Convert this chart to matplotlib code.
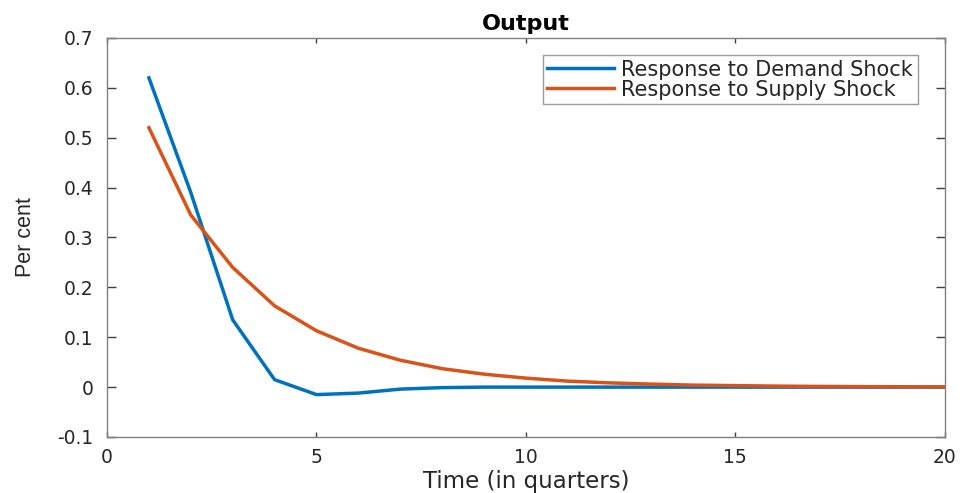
import matplotlib
matplotlib.use("Agg")
import matplotlib.pyplot as plt

plt.rcParams['font.family'] = ['DejaVu Sans']

t = list(range(1, 21))
demand = [0.62, 0.39, 0.135, 0.015, -0.015, -0.012, -0.004, -0.001, 0.0, 0.0,
          0.0, 0.0, 0.0, 0.0, 0.0, 0.0, 0.0, 0.0, 0.0, 0.0]
supply = [0.52, 0.345, 0.24, 0.163, 0.113, 0.078, 0.054, 0.037, 0.026, 0.018,
          0.012, 0.0085, 0.006, 0.004, 0.003, 0.002, 0.0014, 0.001, 0.0007, 0.0005]
labels = ["Response to Demand Shock", "Response to Supply Shock"]
xticks = [0, 5, 10, 15, 20]
yticks = [-0.1, 0, 0.1, 0.2, 0.3, 0.4, 0.5, 0.6, 0.7]
yticklabels = ['-0.1', '0', '0.1', '0.2', '0.3', '0.4', '0.5', '0.6', '0.7']

fig = plt.figure(figsize=(9.6, 4.93), dpi=100)
ax = fig.add_axes([0.1115, 0.1136, 0.8725, 0.8094])
ax.plot(t, demand, color='#0072BD', lw=2.5, label=labels[0])
ax.plot(t, supply, color='#D95319', lw=2.5, label=labels[1])
ax.set_xlim(0, 20)
ax.set_ylim(-0.1, 0.7)
ax.set_xticks(xticks)
ax.set_xticklabels([str(v) for v in xticks])
ax.set_yticks(yticks)
ax.set_yticklabels(yticklabels)
ax.tick_params(direction='in', top=True, right=True, width=1,
               color='#404040', labelcolor='#262626', labelsize=13.5)
ax.tick_params(axis='x', length=3.8, pad=8)
ax.tick_params(axis='y', length=6.5, pad=10)
for s in ax.spines.values():
    s.set_color('#808080')
    s.set_linewidth(1)
ax.set_title('Output', fontsize=16, fontweight='bold', color='#000000', pad=6)
ax.set_xlabel('Time (in quarters)', fontsize=16.5, color='#262626', labelpad=2)
ax.set_ylabel('Per cent', fontsize=15.5, color='#262626',
              fontfamily=['Liberation Sans', 'DejaVu Sans'])
ax.yaxis.set_label_coords(-0.085, 0.5)
leg = ax.legend(loc='upper right', bbox_to_anchor=(0.9678, 0.957), borderaxespad=0,
                fontsize=15, frameon=True, fancybox=False, edgecolor='#808080',
                handlelength=3.2, borderpad=0.22, labelspacing=0.0, handletextpad=0.35)
leg.get_frame().set_linewidth(1)
for txt in leg.get_texts():
    txt.set_color('#262626')
fig.savefig('out.png', dpi=100)
